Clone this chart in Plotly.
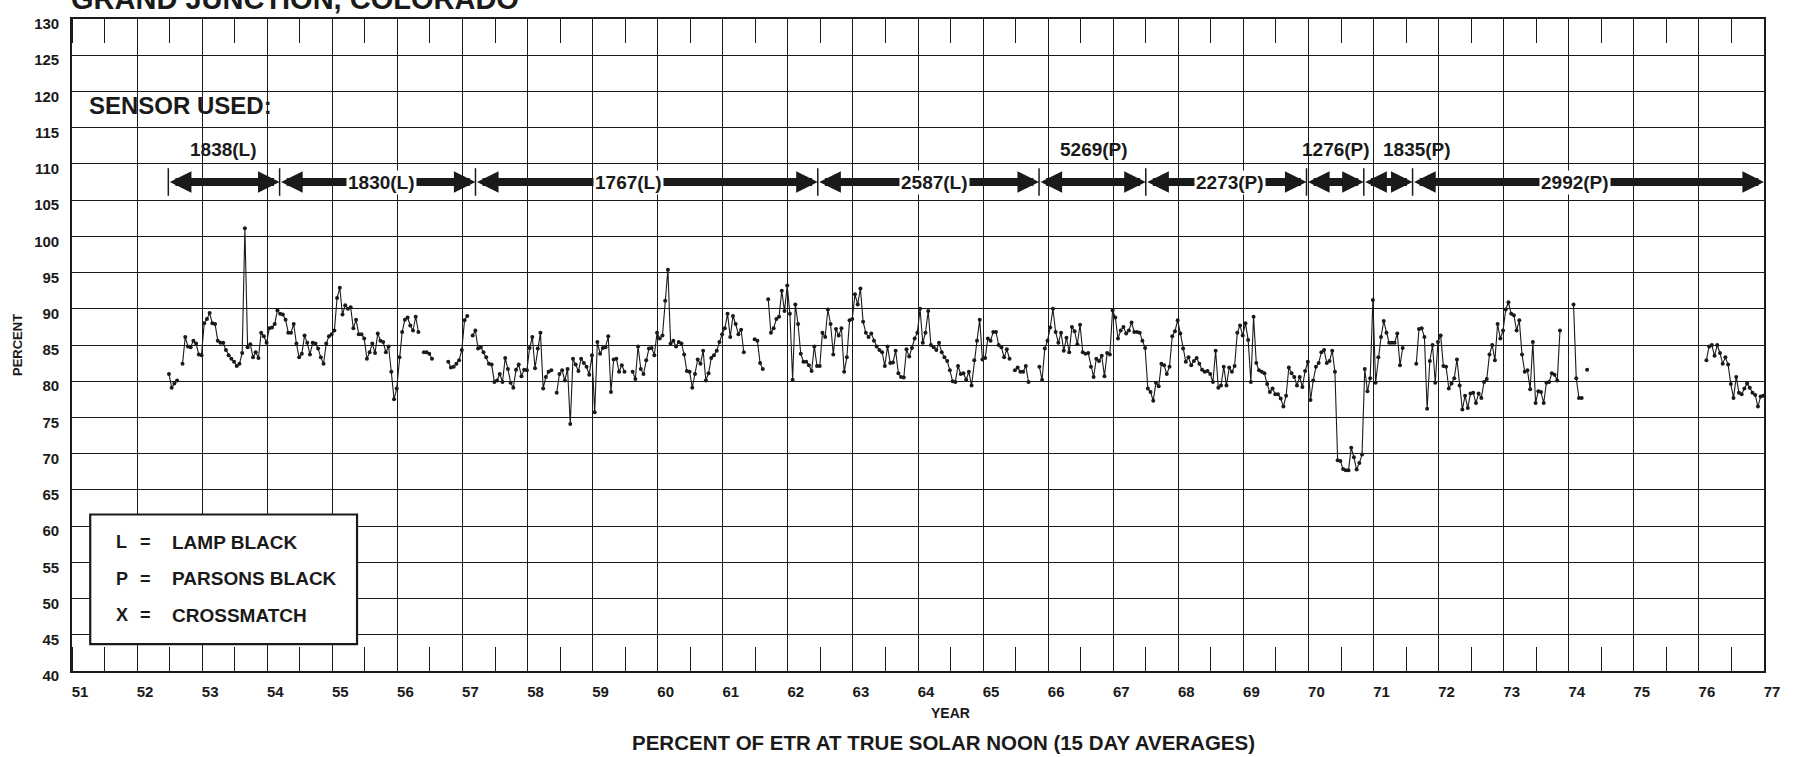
import plotly.graph_objects as go

# ---------------- data ----------------
title_text = "GRAND JUNCTION, COLORADO"
series_start_year = 52.49          # first 15-day average (decimal year, 19xx)
period_years = 1 / 24              # 15-day averaging period

percent_etr = [
    81.0, 79.1, 79.7, 80.1, None,
    82.4, 86.1, 84.8, 84.7, 85.6, 85.2, 83.7, 83.6,
    88.0, 88.6, 89.4, 88.0, 87.9, 85.6, 85.3, 85.3,
    84.3, 83.6, 83.1, 82.7, 82.1, 82.4, 83.9, 101.1,
    84.7, 85.1, 83.3, 84.0, 83.2, 86.7, 86.2, 85.3,
    87.3, 87.4, 87.9, 89.8, 89.3, 89.2, 88.5, 86.7,
    86.7, 87.9, 85.2, 83.3, 83.8, 86.3, 85.3, 83.7,
    85.3, 85.2, 84.5, 83.3, 82.4, 85.2, 86.2, 86.5,
    87.0, 91.5, 92.9, 89.2, 90.5, 90.0, 90.2, 87.3,
    88.5, 86.5, 86.5, 85.9, 83.1, 84.0, 85.2, 83.9,
    86.6, 85.6, 85.4, 84.0, 84.8, 81.3, 77.5, 79.0,
    83.3, 86.8, 88.5, 88.8, 87.7, 87.0, 88.9, 86.8,
    None,
    84.0, 84.0, 83.8, 83.1,
    None, None, None, None, None,
    82.7, 81.9, 82.0, 82.4, 82.9, 84.3, 88.4, 89.0,
    None,
    86.3, 87.0, 84.5, 84.7, 84.0, 83.3, 82.4, 82.3,
    79.9, 80.1, 81.0, 79.9, 83.2, 81.7, 79.8, 79.1,
    81.6, 82.3, 80.7, 81.6, 81.5, 84.6, 86.1, 81.8,
    84.5, 86.7, 79.0, 80.6, 81.3, 81.5,
    None,
    78.4, 81.0, 81.5, 80.1, 81.7, 74.1, 83.1, 82.3,
    81.4, 83.1, 82.5, 82.0, 80.9, 83.6, 75.7, 85.4,
    83.8, 84.6, 84.7, 86.2, 78.5, 83.0, 83.1, 81.3, 82.2, 81.3,
    None, None,
    81.3, 80.3, 84.8, 81.7, 81.0, 82.9, 84.5, 84.6,
    83.6, 86.7, 85.9, 86.3, 91.1, 95.4, 85.2, 85.6,
    84.8, 85.4, 85.2, 83.7, 81.4, 81.3, 79.1, 81.0,
    83.0, 82.4, 84.2, 80.1, 81.1, 83.2, 83.6, 84.2,
    85.4, 86.5, 87.3, 89.3, 86.1, 89.0, 87.9, 86.5, 87.1, 84.0,
    None, None, None,
    85.8, 85.6, 82.5, 81.7,
    None,
    91.3, 86.7, 87.3, 88.6, 88.9, 92.5, 89.7, 93.2,
    89.3, 80.2, 90.6, 87.9, 83.8, 82.7, 82.7, 82.2,
    81.4, 84.8, 82.1, 82.1, 86.7, 86.1, 89.9, 87.9,
    83.7, 87.2, 86.3, 87.3, 81.3, 83.3, 88.4, 88.6,
    92.0, 90.6, 92.8, 88.2, 86.7, 86.1, 86.6, 85.6,
    84.8, 84.3, 84.0, 82.1, 84.8, 82.5, 82.6, 84.2,
    81.1, 80.6, 80.5, 84.4, 83.4, 84.6, 85.9, 86.7,
    90.0, 85.3, 86.7, 89.7, 85.0, 84.7, 84.3, 85.3,
    84.0, 83.3, 82.8, 81.5, 80.0, 79.9, 82.1, 81.0,
    81.1, 80.2, 81.3, 79.4, 82.9, 85.6, 88.5, 83.0,
    83.2, 85.9, 85.6, 86.8, 86.8, 85.0, 84.7, 83.3, 84.4, 83.1,
    None,
    81.5, 81.9, 81.3, 81.3, 82.1, 79.9,
    None, None, None,
    82.0, 80.2, 84.5, 85.6, 87.4, 90.0, 86.8, 85.3,
    86.7, 84.2, 86.0, 84.0, 87.5, 86.9, 85.1, 87.8,
    84.0, 83.8, 83.9, 82.0, 80.6, 83.1, 82.8, 83.5,
    80.7, 83.9, 83.7, 89.8, 88.8, 85.9, 87.0, 87.5,
    86.6, 87.0, 88.1, 86.8, 86.8, 86.7, 85.6, 84.6,
    79.0, 78.5, 77.3, 79.8, 79.3, 82.4, 82.2, 81.0,
    82.0, 86.2, 86.9, 88.4, 86.6, 84.5, 82.7, 83.3,
    82.2, 82.8, 83.2, 82.4, 81.6, 81.3, 81.4, 81.0,
    79.9, 84.2, 79.1, 79.4, 82.0, 79.4, 81.9, 81.3,
    82.1, 86.7, 87.7, 86.3, 88.0, 85.7, 79.9, 88.9,
    82.5, 81.5, 81.3, 81.1, 79.6, 78.5, 79.0, 78.2,
    78.2, 77.6, 76.5, 78.0, 81.9, 81.1, 80.6, 79.4,
    80.6, 79.2, 81.4, 82.7, 77.4, 80.1, 82.0, 82.5,
    84.0, 84.3, 82.5, 82.8, 84.2, 81.3, 69.1, 69.0,
    67.9, 67.7, 67.7, 70.8, 69.5, 67.8, 68.7, 69.9,
    81.7, 78.6, 80.4, 91.2, 79.8, 83.3, 86.1, 88.3,
    86.7, 85.3, 85.3, 85.3, 86.6, 82.2, 84.6,
    None, None, None, None,
    82.4, 87.2, 87.3, 86.1, 76.2, 82.8, 85.0, 79.8,
    85.4, 86.3, 82.1, 82.0, 79.0, 79.7, 80.4, 83.0,
    79.4, 76.1, 78.0, 76.3, 78.3, 78.4, 77.0, 78.3,
    77.7, 79.9, 80.3, 83.7, 85.0, 82.9, 87.9, 85.9,
    87.0, 89.9, 90.9, 89.3, 89.1, 87.0, 88.4, 83.7,
    81.3, 81.5, 78.9, 85.4, 77.0, 78.6, 78.5, 77.0,
    79.8, 79.9, 81.1, 80.9, 80.1, 87.0,
    None, None, None, None,
    90.6, 80.4, 77.7, 77.7,
    None,
    81.6,
] + [None] * 43 + [
    82.9, 84.8, 85.0, 83.5, 85.0, 83.9, 82.4, 83.3,
    82.3, 79.6, 77.7, 80.6, 78.4, 78.2, 79.0, 79.7,
    79.1, 78.4, 78.1, 76.5, 77.9, 78.0,
]

year_ticks = list(range(51, 78))
percent_ticks = list(range(40, 131, 5))

sensor_ids = ["1838(L)", "1830(L)", "1767(L)", "2587(L)", "5269(P)",
              "2273(P)", "1276(P)", "1835(P)", "2992(P)"]
sensor_start = [52.48, 54.19, 57.20, 62.46, 65.86, 67.50, 69.97, 70.85, 71.60]
sensor_end = [54.19, 57.20, 62.46, 65.86, 67.50, 69.97, 70.85, 71.60, 77.00]
sensor_label_x = [53.33, 55.75, 59.55, 64.25, 66.70, 68.80, 70.42, 71.67, 74.10]
sensor_label_above = [True, False, False, False, True, False, True, True, False]

legend_keys = ["L", "P", "X"]
legend_names = ["LAMP BLACK", "PARSONS BLACK", "CROSSMATCH"]
legend_rows_y = [57.8, 52.75, 47.7]

# ---------------- figure ----------------
INK = "#1a1a1a"
FONT = "Liberation Sans, Arial, sans-serif"

years = [series_start_year + k * period_years for k in range(len(percent_etr))]

fig = go.Figure()
fig.add_trace(go.Scatter(
    x=years, y=percent_etr, mode="lines+markers",
    line=dict(color=INK, width=1.1),
    marker=dict(size=4, color=INK),
    connectgaps=False, showlegend=False, hoverinfo="x+y",
))

# sensor boundary bars
bx, by = [], []
for s in sensor_start:
    bx += [s, s, None]
    by += [105.6, 109.4, None]
fig.add_trace(go.Scatter(x=bx, y=by, mode="lines",
                         line=dict(color=INK, width=1.5),
                         showlegend=False, hoverinfo="skip"))

annotations = []
ARROW_Y = 107.5
for s, e in zip(sensor_start, sensor_end):
    annotations.append(dict(
        x=e, y=ARROW_Y, ax=s, ay=ARROW_Y, xref="x", yref="y",
        axref="x", ayref="y", text="", showarrow=True,
        arrowhead=2, startarrowhead=2, arrowside="end+start",
        arrowsize=0.54, startarrowsize=0.54, arrowwidth=8,
        arrowcolor=INK, standoff=0, startstandoff=0,
    ))
for sid, lx, above in zip(sensor_ids, sensor_label_x, sensor_label_above):
    annotations.append(dict(
        x=lx, y=112.0 if above else ARROW_Y, xref="x", yref="y",
        xanchor="center", text=sid, showarrow=False,
        font=dict(family=FONT, size=19, color=INK, weight="bold"),
        bgcolor=None if above else "white", borderpad=1,
    ))

annotations.append(dict(
    x=0, y=118.1, xref="paper", yref="y", xanchor="left", xshift=15,
    text="SENSOR USED:", showarrow=False,
    font=dict(family=FONT, size=24, color=INK, weight="bold"),
))

# title (cut at top as in the original)
annotations.append(dict(
    x=0, y=1, xref="paper", yref="paper", xanchor="left", yanchor="bottom",
    xshift=-3, yshift=2, text=title_text, showarrow=False,
    font=dict(family=FONT, size=29, color=INK, weight="bold"),
))

# legend box text
for k, name, ly in zip(legend_keys, legend_names, legend_rows_y):
    annotations.append(dict(x=51.64, y=ly, xref="x", yref="y", xanchor="left",
                            text=k, showarrow=False,
                            font=dict(family=FONT, size=18, color=INK, weight="bold")))
    annotations.append(dict(x=52.13, y=ly, xref="x", yref="y", xanchor="center",
                            text="=", showarrow=False,
                            font=dict(family=FONT, size=18, color=INK, weight="bold")))
    annotations.append(dict(x=52.50, y=ly, xref="x", yref="y", xanchor="left",
                            text=name, showarrow=False,
                            font=dict(family=FONT, size=19, color=INK, weight="bold")))

annotations.append(dict(
    x=0, y=0.5, xref="paper", yref="paper", xanchor="center", xshift=-55,
    textangle=-90, text="PERCENT", showarrow=False,
    font=dict(family=FONT, size=13, color=INK, weight="bold"),
))
annotations.append(dict(
    x=0.5, y=0, xref="paper", yref="paper", xanchor="center", xshift=32,
    yshift=-42, yanchor="middle", text="YEAR", showarrow=False,
    font=dict(family=FONT, size=14, color=INK, weight="bold"),
))
annotations.append(dict(
    x=0.5, y=0, xref="paper", yref="paper", xanchor="center", xshift=25,
    yshift=-71, yanchor="middle",
    text="PERCENT OF ETR AT TRUE SOLAR NOON (15 DAY AVERAGES)",
    showarrow=False,
    font=dict(family=FONT, size=20.5, color=INK, weight="bold"),
))

fig.update_layout(
    width=1796, height=757,
    margin=dict(l=72, r=32, t=19, b=86, autoexpand=False),
    paper_bgcolor="white", plot_bgcolor="white",
    showlegend=False,
    annotations=annotations,
    shapes=[dict(type="rect", xref="x", yref="y", x0=51.28, x1=55.38,
                 y0=43.7, y1=61.6, fillcolor="white",
                 line=dict(color=INK, width=2.2), layer="above")],
    xaxis=dict(
        range=[51, 77], tickvals=year_ticks,
        ticktext=[str(v) for v in year_ticks],
        showgrid=True, gridcolor=INK, gridwidth=1.3,
        ticks="", ticklabelshift=8, ticklabelstandoff=6,
        tickfont=dict(family=FONT, size=15, color=INK, weight="bold"),
        showline=True, linecolor=INK, linewidth=1.6, mirror="allticks",
        zeroline=False,
        minor=dict(dtick=0.5, tick0=0, ticks="inside", ticklen=24,
                   tickwidth=1.2, tickcolor=INK, showgrid=False),
    ),
    yaxis=dict(
        range=[40, 130], tickvals=percent_ticks,
        showgrid=True, gridcolor=INK, gridwidth=1.3,
        ticks="", ticklabelstandoff=8, ticklabelshift=5,
        tickfont=dict(family=FONT, size=15, color=INK, weight="bold"),
        showline=True, linecolor=INK, linewidth=1.6, mirror=True,
        zeroline=False,
    ),
)

fig.write_html(
    "out.html",
    config={"displayModeBar": False},
    post_script="document.body.style.margin='0';document.body.style.overflow='hidden';",
)
